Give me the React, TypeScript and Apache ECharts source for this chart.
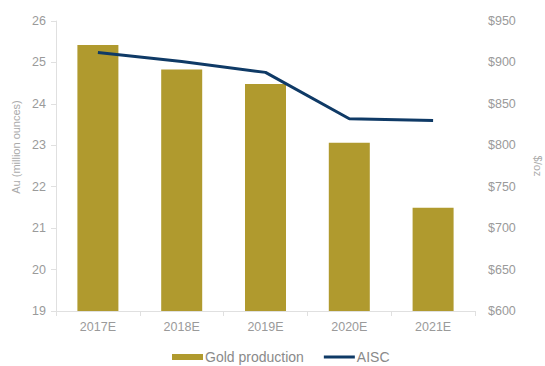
import React, { useEffect, useRef } from "react";
import * as echarts from "echarts";

const categories = ["2017E", "2018E", "2019E", "2020E", "2021E"];
const goldProduction = [25.42, 24.83, 24.48, 23.06, 21.49];
const aisc = [912, 901, 888, 832, 830];

export default function App() {
  const ref = useRef<HTMLDivElement>(null);
  useEffect(() => {
    if (!ref.current) return;
    const chart = echarts.init(ref.current, null, { renderer: "svg" });
    const gray = "#9a9a9a";
    chart.setOption({
      animation: false,
      textStyle: { fontFamily: "Liberation Sans, Arial, sans-serif" },
      grid: { left: 56, right: 70, top: 21, bottom: 55, outerBoundsMode: "none", containLabel: false },
      legend: {
        bottom: -3,
        left: 167,
        itemWidth: 31,
        itemHeight: 6,
        itemGap: 20,
        textStyle: { color: "#8a8a8a", fontSize: 14, fontFamily: "Liberation Sans, Arial, sans-serif", padding: [0, 0, 0, -3] },
        data: [
          { name: "Gold production", icon: "rect" },
          { name: "AISC", icon: "path://M0,0H31V3H0Z" },
        ],
      },
      xAxis: {
        type: "category",
        data: categories,
        axisLine: { lineStyle: { color: "#e0e0e0" } },
        axisTick: { show: true, alignWithLabel: false, length: 5, lineStyle: { color: "#e0e0e0" } },
        axisLabel: { color: gray, fontSize: 12.5, margin: 9 },
      },
      yAxis: [
        {
          type: "value",
          min: 19,
          max: 26,
          interval: 1,
          name: "Au (million ounces)",
          nameLocation: "middle",
          nameGap: 29,
          nameTextStyle: { color: "#aaaaaa", fontSize: 11, padding: [0, 0, 0, 38] },
          axisLine: { show: true, lineStyle: { color: "#e0e0e0" } },
          axisTick: { show: true, length: 5, lineStyle: { color: "#e0e0e0" } },
          axisLabel: { color: gray, fontSize: 12.5, margin: 10 },
          splitLine: { show: false },
        },
        {
          type: "value",
          min: 600,
          max: 950,
          interval: 50,
          position: "right",
          name: "$/oz",
          nameLocation: "middle",
          nameGap: 57,
          nameRotate: -90,
          nameTextStyle: { color: "#aaaaaa", fontSize: 11 },
          axisLine: { show: false },
          axisTick: { show: false },
          axisLabel: { color: gray, fontSize: 12.5, margin: 13, formatter: (v: number) => "$" + v },
          splitLine: { show: false },
        },
      ],
      series: [
        {
          name: "Gold production",
          type: "bar",
          data: goldProduction,
          barWidth: 41,
          itemStyle: { color: "#b09a2e" },
        },
        {
          name: "AISC",
          type: "line",
          yAxisIndex: 1,
          data: aisc,
          symbol: "none",
          lineStyle: { color: "#0f3a66", width: 3 },
          itemStyle: { color: "#0f3a66" },
        },
      ],
    });
    return () => chart.dispose();
  }, []);
  return <div ref={ref} style={{ width: 545, height: 366, position: "absolute", left: 0, top: 0 }} />;
}
